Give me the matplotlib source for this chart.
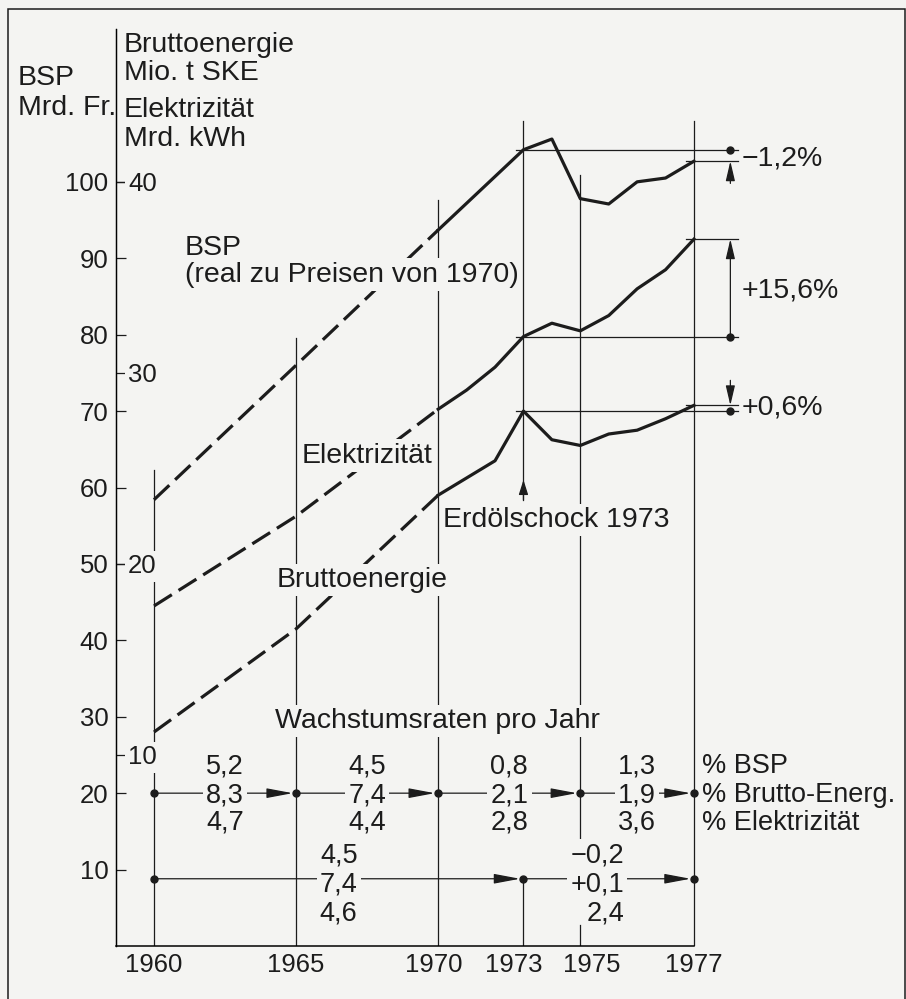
import numpy as np
from matplotlib import pyplot as plt
from matplotlib.patches import Rectangle
from matplotlib.transforms import ScaledTranslation

# Stuetzpunkte der Kurven (1975-1977 halbjaehrlich).
years = [1960, 1965, 1970, 1971, 1972, 1973, 1974, 1975, 1975.5, 1976, 1976.5, 1977]
bsp = [58.4, 76.0, 93.7, 97.2, 100.7, 104.2, 105.6, 97.8, 97.1, 100.0, 100.5, 102.7]
elektrizitaet = [17.8, 22.5, 28.1, 29.1, 30.3, 31.9, 32.6, 32.2, 33.0, 34.4, 35.4, 37.0]
bruttoenergie = [11.2, 16.6, 23.6, 24.5, 25.4, 28.0, 26.5, 26.2, 26.8, 27.0, 27.6, 28.3]

# Wachstumsraten pro Jahr.
periodYears = [1960, 1965, 1970, 1975, 1977]
rateBsp = ['5,2', '4,5', '0,8', '1,3']
rateEnergie = ['8,3', '7,4', '2,1', '1,9']
rateElektro = ['4,7', '4,4', '2,8', '3,6']
rateLabels = ['% BSP', '% Brutto-Energ.', '% Elektrizität']

crisisYears = [1960, 1973, 1977]
crisisBsp = ['4,5', '−0,2']
crisisEnergie = ['7,4', '+0,1']
crisisElektro = ['4,6', '2,4']

changeLabels = ['−1,2%', '+15,6%', '+0,6%']
tickYears = [1960, 1965, 1970, 1973, 1975, 1977]

ink = '#1c1c1c'
bg = '#f4f4f2'
box = dict(boxstyle='square,pad=0.12', fc=bg, ec='none')
labelSize = 20.5


# The original stretches 1975-1977 to twice the width.
def fwd(x):
  x = np.asarray(x, dtype=float)
  return np.where(x <= 1975, x, 1975 + 2 * (x - 1975))


def inv(p):
  p = np.asarray(p, dtype=float)
  return np.where(p <= 1975, p, 1975 + (p - 1975) / 2)


def mid(a, b):
  return float(inv((fwd(a) + fwd(b)) / 2))


def arrow(hl, hw, scale=20):
  return dict(arrowstyle='-|>,head_length={},head_width={}'.format(hl, hw),
              mutation_scale=scale, lw=0.9, color=ink, shrinkA=0, shrinkB=0)


if __name__ == '__main__':
  plt.rcParams['font.family'] = ['Liberation Sans', 'DejaVu Sans']

  fig = plt.figure(figsize=(9.06, 9.99), dpi=100, facecolor=bg)
  ax = fig.add_axes([0.12804, 0.05305, 0.87196, 0.91792])
  ax.set_facecolor('none')
  ax.set_xscale('function', functions=(fwd, inv))
  ax.set_xlim(1958.663, 1980.73)
  ax.set_ylim(0, 120)

  # Second scale for energy / electricity on the same spine.
  ax2 = ax.twinx()
  ax2.set_ylim(0, 48)
  ax2.spines['right'].set_position(('axes', 0))
  ax2.spines[['top', 'left', 'bottom']].set_visible(False)
  ax2.spines['right'].set_linewidth(0.9)
  ax2.set_yticks([10, 20, 30, 40])
  ax2.tick_params(axis='y', direction='out', length=7.2, width=0.9, pad=1.4,
                  labelsize=18.5, colors=ink)
  for t in ax2.get_yticklabels():
    t.set_bbox(box)

  # Left scale and year axis.
  ax.set_yticks(range(10, 101, 10))
  ax.tick_params(axis='y', direction='in', length=7.2, width=0.9, pad=5.4,
                 labelsize=18.5, colors=ink)
  ax.set_xticks(tickYears, [str(y) for y in tickYears])
  ax.tick_params(axis='x', length=0, pad=5, labelsize=18.5, colors=ink)
  # 1973 and 1975 are pushed apart as in the original.
  shifts = {'1970': -4, '1973': -10, '1975': 11}
  for t in ax.get_xticklabels():
    dx = shifts.get(t.get_text(), 0) / 100
    t.set_transform(t.get_transform() + ScaledTranslation(dx, 0, fig.dpi_scale_trans))
  ax.spines[['top', 'right']].set_visible(False)
  ax.spines['left'].set_linewidth(0.9)
  ax.spines['bottom'].set_linewidth(1.1)
  ax.spines['bottom'].set_bounds(1958.663, 1977)

  # Vertical guide lines.
  gridSpans = [(1960, 0, 62.3), (1965, 0, 79.6), (1970, 0, 97.6), (1973, 58.4, 107.9),
               (1973, 0, 8.8), (1975, 13.9, 100.9), (1975, 0, 2.75), (1977, 0, 107.9)]
  for x, y0, y1 in gridSpans:
    ax.plot([x, x], [y0, y1], color=ink, lw=0.9, zorder=1)

  # Curves: dashed up to 1970, solid after.
  i70 = years.index(1970)
  series = [(bsp, ax.transData), (elektrizitaet, ax2.transData), (bruttoenergie, ax2.transData)]
  for vals, tr in series:
    ax.plot(years[:i70 + 1], vals[:i70 + 1], transform=tr, color=ink, lw=2.3,
            dashes=(6.6, 2.5), zorder=3)
    ax.plot(years[i70:], vals[i70:], transform=tr, color=ink, lw=2.3, zorder=3)

  # Change 1973 -> 1977 markers.
  i73 = years.index(1973)
  xDot = 1977.64
  tails = [(0, -16), None, (0, 18)]
  labelY = [102.2, 84.8, 69.5]
  for (vals, tr), tail, label, ly in zip(series, tails, changeLabels, labelY):
    ax.plot([1972.75, 1977.78], [vals[i73]] * 2, transform=tr, color=ink, lw=0.9, zorder=2)
    ax.plot([1976.86, 1977.78], [vals[-1]] * 2, transform=tr, color=ink, lw=0.9, zorder=2)
    ax.plot([xDot], [vals[i73]], 'o', ms=5, color=ink, transform=tr, zorder=4)
    if tail is None:
      ax.annotate('', xy=(xDot, vals[-1]), xycoords=tr, xytext=(xDot, vals[i73]),
                  textcoords=tr, arrowprops=arrow(0.6, 0.14))
    else:
      ax.annotate('', xy=(xDot, vals[-1]), xycoords=tr, xytext=tail,
                  textcoords='offset points', arrowprops=arrow(0.6, 0.14))
    ax.text(1977.84, ly, label, fontsize=labelSize, va='baseline', color=ink)

  # Oil shock arrow.
  ax.annotate('', xy=(1973, 61.0), xytext=(1973, 58.4), arrowprops=arrow(0.6, 0.19, 15))

  # Curve labels.
  labels = [
    (1961.09, 90.45, 'BSP'),
    (1961.09, 86.91, '(real zu Preisen von 1970)'),
    (1965.21, 63.22, 'Elektrizität'),
    (1964.33, 46.99, 'Bruttoenergie'),
    (1970.17, 54.84, 'Erdölschock 1973'),
    (1964.26, 28.53, 'Wachstumsraten pro Jahr'),
  ]
  for x, y, s in labels:
    ax.text(x, y, s, fontsize=labelSize, va='baseline', color=ink, bbox=box, zorder=5)

  # Growth rate rows.
  rows = [
    (periodYears, 20.0, (22.6, 18.8, 15.2), zip(rateBsp, rateEnergie, rateElektro)),
    (crisisYears, 8.8, (10.9, 7.1, 3.4), zip(crisisBsp, crisisEnergie, crisisElektro)),
  ]
  for bounds, rowY, baselines, texts in rows:
    for j, (a, b, trio) in enumerate(zip(bounds[:-1], bounds[1:], texts)):
      ax.annotate('', xy=(b, rowY), xytext=(a, rowY), zorder=2,
                  arrowprops=dict(arrow(0.8, 0.15), shrinkB=2.5))
      if rowY < 10 and j == 1:
        xm, ha = 1975.77, 'right'
      else:
        xm, ha = mid(a, b), 'center'
      for s, yb in zip(trio, baselines):
        ax.text(xm, yb, s, fontsize=19.5, ha=ha, va='baseline', color=ink,
                bbox=box, zorder=5)
    ax.plot(bounds, [rowY] * len(bounds), 'o', ms=5, color=ink, zorder=6)
  for s, yb in zip(rateLabels, (22.6, 18.8, 15.2)):
    ax.text(1977.14, yb, s, fontsize=19.5, va='baseline', color=ink)

  # Axis headers.
  fig.text(0.0199, 0.9149, 'BSP', fontsize=labelSize, color=ink)
  fig.text(0.0199, 0.8849, 'Mrd. Fr.', fontsize=labelSize, color=ink)
  fig.text(0.1369, 0.9479, 'Bruttoenergie', fontsize=labelSize, color=ink)
  fig.text(0.1369, 0.9199, 'Mio. t SKE', fontsize=labelSize, color=ink)
  fig.text(0.1369, 0.8829, 'Elektrizität', fontsize=labelSize, color=ink)
  fig.text(0.1369, 0.8539, 'Mrd. kWh', fontsize=labelSize, color=ink)

  # Frame around the figure.
  fig.add_artist(Rectangle((8 / 906, -0.05), 897 / 906, 1.05 - 9 / 999,
                           transform=fig.transFigure, fill=False, lw=1.1, ec=ink))

  fig.savefig('out.png', dpi=100, facecolor=bg)
